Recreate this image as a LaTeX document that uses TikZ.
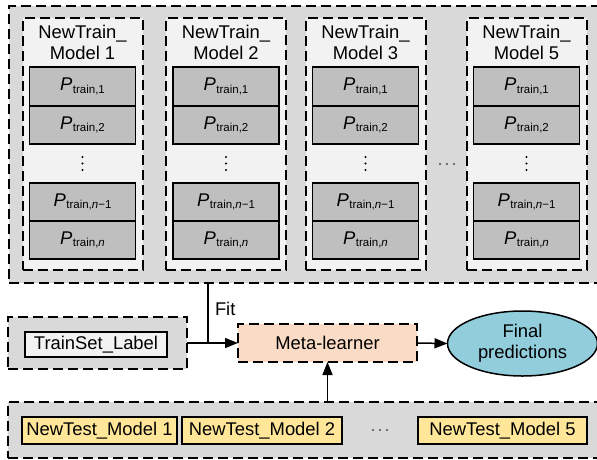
\documentclass[tikz,border=0pt]{standalone}
\usepackage{fontspec}
\setmainfont{Liberation Sans}
\usetikzlibrary{shapes.geometric,arrows.meta}
\definecolor{outergray}{HTML}{D9D9D9}
\definecolor{innergray}{HTML}{F2F2F2}
\definecolor{pgray}{HTML}{BFBFBF}
\definecolor{peach}{HTML}{FADCC6}
\definecolor{skyblue}{HTML}{92CDDC}
\definecolor{lightyellow}{HTML}{FFE699}
\newcommand\Ptr[1]{\textit{P}\kern0.5pt\raisebox{-2.5pt}{\fontsize{11.5}{12}\selectfont train,#1}}
\begin{document}
\begin{tikzpicture}[x=1pt,y=-1pt,
  every node/.style={font=\fontsize{18.4}{21}\selectfont, inner sep=0pt, outer sep=0pt},
  dashbox/.style={draw=black, line width=2pt, dash pattern=on 10pt off 5pt},
  bigbox/.style={dashbox, fill=outergray, anchor=north west},
  modelbox/.style={dashbox, fill=innergray, minimum width=120pt, minimum height=252pt, anchor=north},
  pbox/.style={draw=black, line width=1.5pt, fill=pgray, minimum width=106pt},
  testbox/.style={draw=black, line width=1.5pt, fill=lightyellow, minimum height=27pt},
  arr/.style={line width=1.5pt, -{Triangle[length=13pt,width=10pt]}},
  conn/.style={line width=1.5pt},
  dotmark/.style={circle, fill=#1, minimum size=2.2pt, inner sep=0pt}
]
\useasboundingbox (0,0) rectangle (597,459);
\fill[white] (0,0) rectangle (597,459);

% top training block
\node[bigbox, minimum width=600pt, minimum height=277pt] (top) at (9,6) {};
\foreach \cx/\m/\nm in {82.5/1/a, 226/2/b, 365.5/3/c, 526.5/5/d}{
  \node[modelbox] (mb\nm) at (\cx,18) {};
  \node[align=center] (tt\nm) at (\cx,42.5) {NewTrain\_\\Model \m};
  \node[pbox, minimum height=39pt] (p1\nm) at (\cx,86.5) {\Ptr{1}};
  \node[pbox, minimum height=38pt] (p2\nm) at (\cx,125) {\Ptr{2}};
  \node[dotmark=black] (vda\nm) at (\cx,157) {};
  \node[dotmark=black] (vdb\nm) at (\cx,163.5) {};
  \node[dotmark=black] (vdc\nm) at (\cx,170) {};
  \node[pbox, minimum height=38pt] (p3\nm) at (\cx,202) {\Ptr{\textit{n}−1}};
  \node[pbox, minimum height=38pt] (p4\nm) at (\cx,240) {\Ptr{\textit{n}}};
}
\foreach \k/\x in {1/440,2/447,3/454}{
  \node[dotmark=black!70] (hd\k) at (\x,164) {};
}

% train label block
\node[bigbox, minimum width=179pt, minimum height=52pt] (tsouter) at (8,317) {};
\node[draw=black, line width=1.5pt, fill=innergray, minimum width=142pt, minimum height=25pt] (tslabel) at (96,344.5) {TrainSet\_Label};

% meta learner
\node[dashbox, fill=peach, minimum width=179pt, minimum height=38pt] (meta) at (327.5,343) {Meta-learner};
\node[ellipse, draw=black, line width=1.5pt, fill=skyblue, minimum width=150pt, minimum height=65pt, align=center] (final) at (522.5,343.5) {Final\\predictions};

% bottom test block
\node[bigbox, minimum width=600pt, minimum height=56pt] (bottom) at (8,402) {};
\node[testbox, minimum width=155pt] (t1) at (99.5,430.5) {NewTest\_Model 1};
\node[testbox, minimum width=160pt] (t2) at (262,430.5) {NewTest\_Model 2};
\foreach \k/\x in {1/373,2/380,3/387}{
  \node[dotmark=black!70] (bd\k) at (\x,430) {};
}
\node[testbox, minimum width=169pt] (t5) at (502.5,430.5) {NewTest\_Model 5};

% connectors
\coordinate (j) at (208,343);
\draw[conn] (top.south -| j) -- (j);
\node[anchor=west] (fit) at (215,309) {Fit};
\draw[arr] (tsouter.east) -- (meta.west);
\draw[arr] (meta.east) -- (final.west);
\draw[arr] (bottom.north -| meta) -- (meta.south);
\end{tikzpicture}
\end{document}
